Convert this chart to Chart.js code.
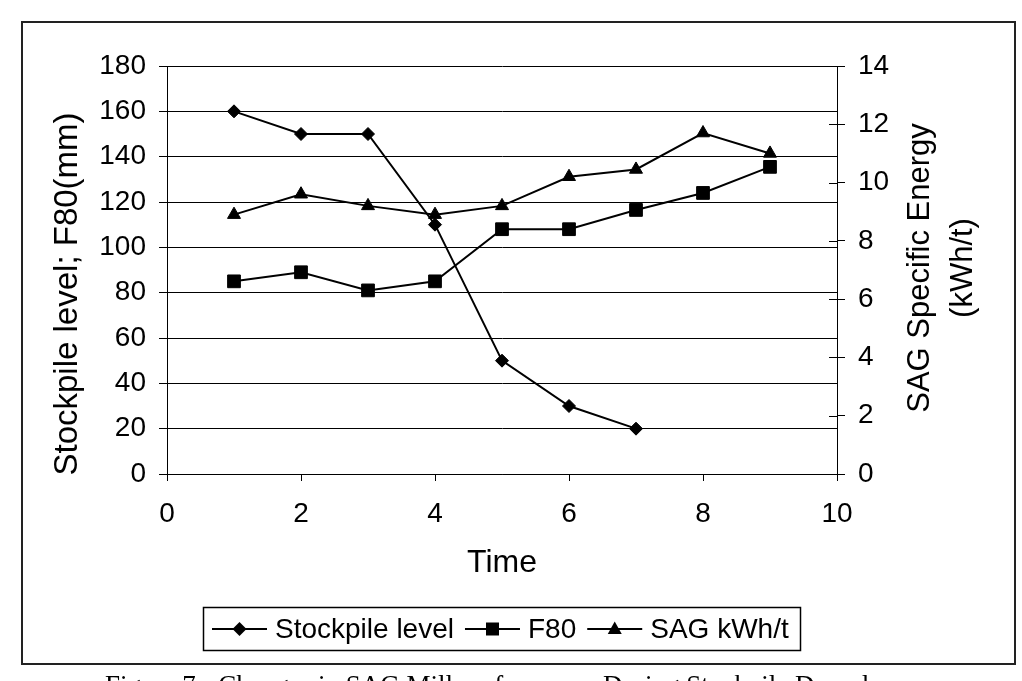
<!DOCTYPE html>
<html>
<head>
<meta charset="utf-8">
<script src="https://cdn.jsdelivr.net/npm/chart.js@4/dist/chart.umd.min.js"></script>
<style>
  html, body { margin: 0; padding: 0; background: #fff; }
  #wrap { width: 1022px; height: 681px; position: relative; }
</style>
</head>
<body>
<div id="wrap"><canvas id="line-chartcanvas"></canvas></div>
<script>
// chart values
var stockTime = [1, 2, 3, 4, 5, 6, 7];
var stockpileLevel = [160, 150, 150, 110, 50, 30, 20];
var time = [1, 2, 3, 4, 5, 6, 7, 8, 9];
var f80 = [85, 89, 81, 85, 108, 108, 116.5, 124, 135.5];
var sagKwh = [8.9, 9.6, 9.2, 8.9, 9.2, 10.2, 10.45, 11.7, 11.0];

var xTicks = [0, 2, 4, 6, 8, 10];
var leftTicks = [0, 20, 40, 60, 80, 100, 120, 140, 160, 180];
var rightTicks = [0, 2, 4, 6, 8, 10, 12, 14];

var seriesNames = ["Stockpile level", "F80", "SAG kWh/t"];
var xTitle = "Time";
var leftTitle = "Stockpile level; F80(mm)";
var rightTitle = ["SAG Specific Energy", "(kWh/t)"];
var caption = "Figure 7 - Changes in SAG Mill performance During Stockpile Drawdown";

function pairs(xs, ys) {
    return ys.map(function (v, i) { return {x: xs[i], y: v}; });
}

var FONT = "'Liberation Sans', Arial, sans-serif";

// frame, legend box, axis titles and caption
var extras = {
    id: "extras",
    beforeDraw: function (chart) {
        var c = chart.ctx;
        c.save();
        c.fillStyle = "#fff";
        c.fillRect(0, 0, chart.width, chart.height);
        c.restore();
    },
    afterDraw: function (chart) {
        var c = chart.ctx;
        var area = chart.chartArea;
        var yR = chart.scales.y2;
        c.save();

        // right axis ticks crossing into the plot
        c.strokeStyle = "#000";
        c.lineWidth = 1;
        rightTicks.forEach(function (v) {
            var py = Math.round(yR.getPixelForValue(v)) + 0.5;
            c.beginPath();
            c.moveTo(area.right - 8, py);
            c.lineTo(area.right, py);
            c.stroke();
        });

        // outer frame
        c.strokeStyle = "#222";
        c.lineWidth = 2;
        c.strokeRect(22, 22, 993, 642);

        // left title
        c.fillStyle = "#000";
        c.font = "33px " + FONT;
        c.textAlign = "center";
        c.textBaseline = "middle";
        c.save();
        c.translate(68, 294);
        c.rotate(-Math.PI / 2);
        c.fillText(leftTitle, 0, 0);
        c.restore();

        // right title, two lines reading upwards
        c.font = "31px " + FONT;
        c.save();
        c.translate(920, 268);
        c.rotate(-Math.PI / 2);
        c.fillText(rightTitle[0], 0, 0);
        c.fillText(rightTitle[1], 0, 43);
        c.restore();

        // legend
        c.strokeStyle = "#000";
        c.lineWidth = 1.5;
        c.strokeRect(203.5, 607.5, 597, 43);
        c.font = "28px " + FONT;
        c.textAlign = "left";
        var ly = 629;
        var lx = 212;
        chart.data.datasets.forEach(function (ds) {
            c.strokeStyle = "#000";
            c.lineWidth = 2;
            c.beginPath();
            c.moveTo(lx, ly);
            c.lineTo(lx + 55, ly);
            c.stroke();
            drawMarker(c, ds.pointStyle, lx + 27.5, ly);
            c.fillStyle = "#000";
            c.fillText(ds.label, lx + 63, ly + 1);
            lx += 63 + c.measureText(ds.label).width + 11;
        });

        // caption (cut by the page edge)
        c.font = "27px 'Liberation Serif', 'Times New Roman', serif";
        c.textAlign = "center";
        c.textBaseline = "alphabetic";
        c.fillText(caption, 510, 694);
        c.restore();
    }
};

function drawMarker(c, style, x, y) {
    c.fillStyle = "#000";
    c.beginPath();
    if (style === "rectRot") {
        c.moveTo(x - 7, y); c.lineTo(x, y - 7); c.lineTo(x + 7, y); c.lineTo(x, y + 7);
    } else if (style === "rect") {
        c.rect(x - 6.5, y - 6.5, 13, 13);
    } else {
        c.moveTo(x, y - 7.5); c.lineTo(x + 7, y + 5); c.lineTo(x - 7, y + 5);
    }
    c.closePath();
    c.fill();
}

var ctx = document.getElementById("line-chartcanvas");

var data = {
    datasets: [
        {
            label: seriesNames[0],
            data: pairs(stockTime, stockpileLevel),
            yAxisID: "y",
            pointStyle: "rectRot",
            radius: 6.5
        },
        {
            label: seriesNames[1],
            data: pairs(time, f80),
            yAxisID: "y",
            pointStyle: "rect",
            radius: 9
        },
        {
            label: seriesNames[2],
            data: pairs(time, sagKwh),
            yAxisID: "y2",
            pointStyle: "triangle",
            radius: 7.5
        }
    ]
};
data.datasets.forEach(function (ds) {
    ds.borderColor = "#000";
    ds.backgroundColor = "#000";
    ds.borderWidth = 2;
    ds.pointBorderWidth = 1;
    ds.fill = false;
    ds.tension = 0;
    ds.pointHoverRadius = ds.radius;
});

var tickFont = {family: FONT, size: 28};

var options = {
    responsive: true,
    maintainAspectRatio: false,
    animation: false,
    events: [],
    layout: {padding: {top: 66, bottom: 93, left: 0, right: 0}},
    plugins: {legend: {display: false}, tooltip: {enabled: false}},
    scales: {
        x: {
            type: "linear",
            min: 0,
            max: 10,
            afterBuildTicks: function (s) { s.ticks = xTicks.map(function (v) { return {value: v}; }); },
            ticks: {font: tickFont, color: "#000", padding: 16, maxRotation: 0},
            grid: {drawOnChartArea: false, color: "#000", tickLength: 7},
            border: {color: "#000", width: 1},
            title: {display: true, text: xTitle, color: "#000", font: {family: FONT, size: 32}, padding: {top: 0, bottom: 6}},
            afterFit: function (s) { s.height = 114; s.paddingLeft = 0; s.paddingRight = 0; }
        },
        y: {
            position: "left",
            min: 0,
            max: 180,
            afterBuildTicks: function (s) { s.ticks = leftTicks.map(function (v) { return {value: v}; }); },
            ticks: {font: tickFont, color: "#000", padding: 13},
            grid: {color: "#000", lineWidth: 1, tickLength: 8},
            border: {color: "#000", width: 1},
            afterFit: function (s) { s.width = 167; s.paddingTop = 0; s.paddingBottom = 0; }
        },
        y2: {
            position: "right",
            min: 0,
            max: 14,
            afterBuildTicks: function (s) { s.ticks = rightTicks.map(function (v) { return {value: v}; }); },
            ticks: {font: tickFont, color: "#000", padding: 13},
            grid: {drawOnChartArea: false, color: "#000", tickLength: 8},
            border: {color: "#000", width: 1},
            afterFit: function (s) { s.width = 185; s.paddingTop = 0; s.paddingBottom = 0; }
        }
    }
};

var chart = new Chart(ctx, {
    type: "line",
    data: data,
    options: options,
    plugins: [extras]
});
</script>
</body>
</html>
